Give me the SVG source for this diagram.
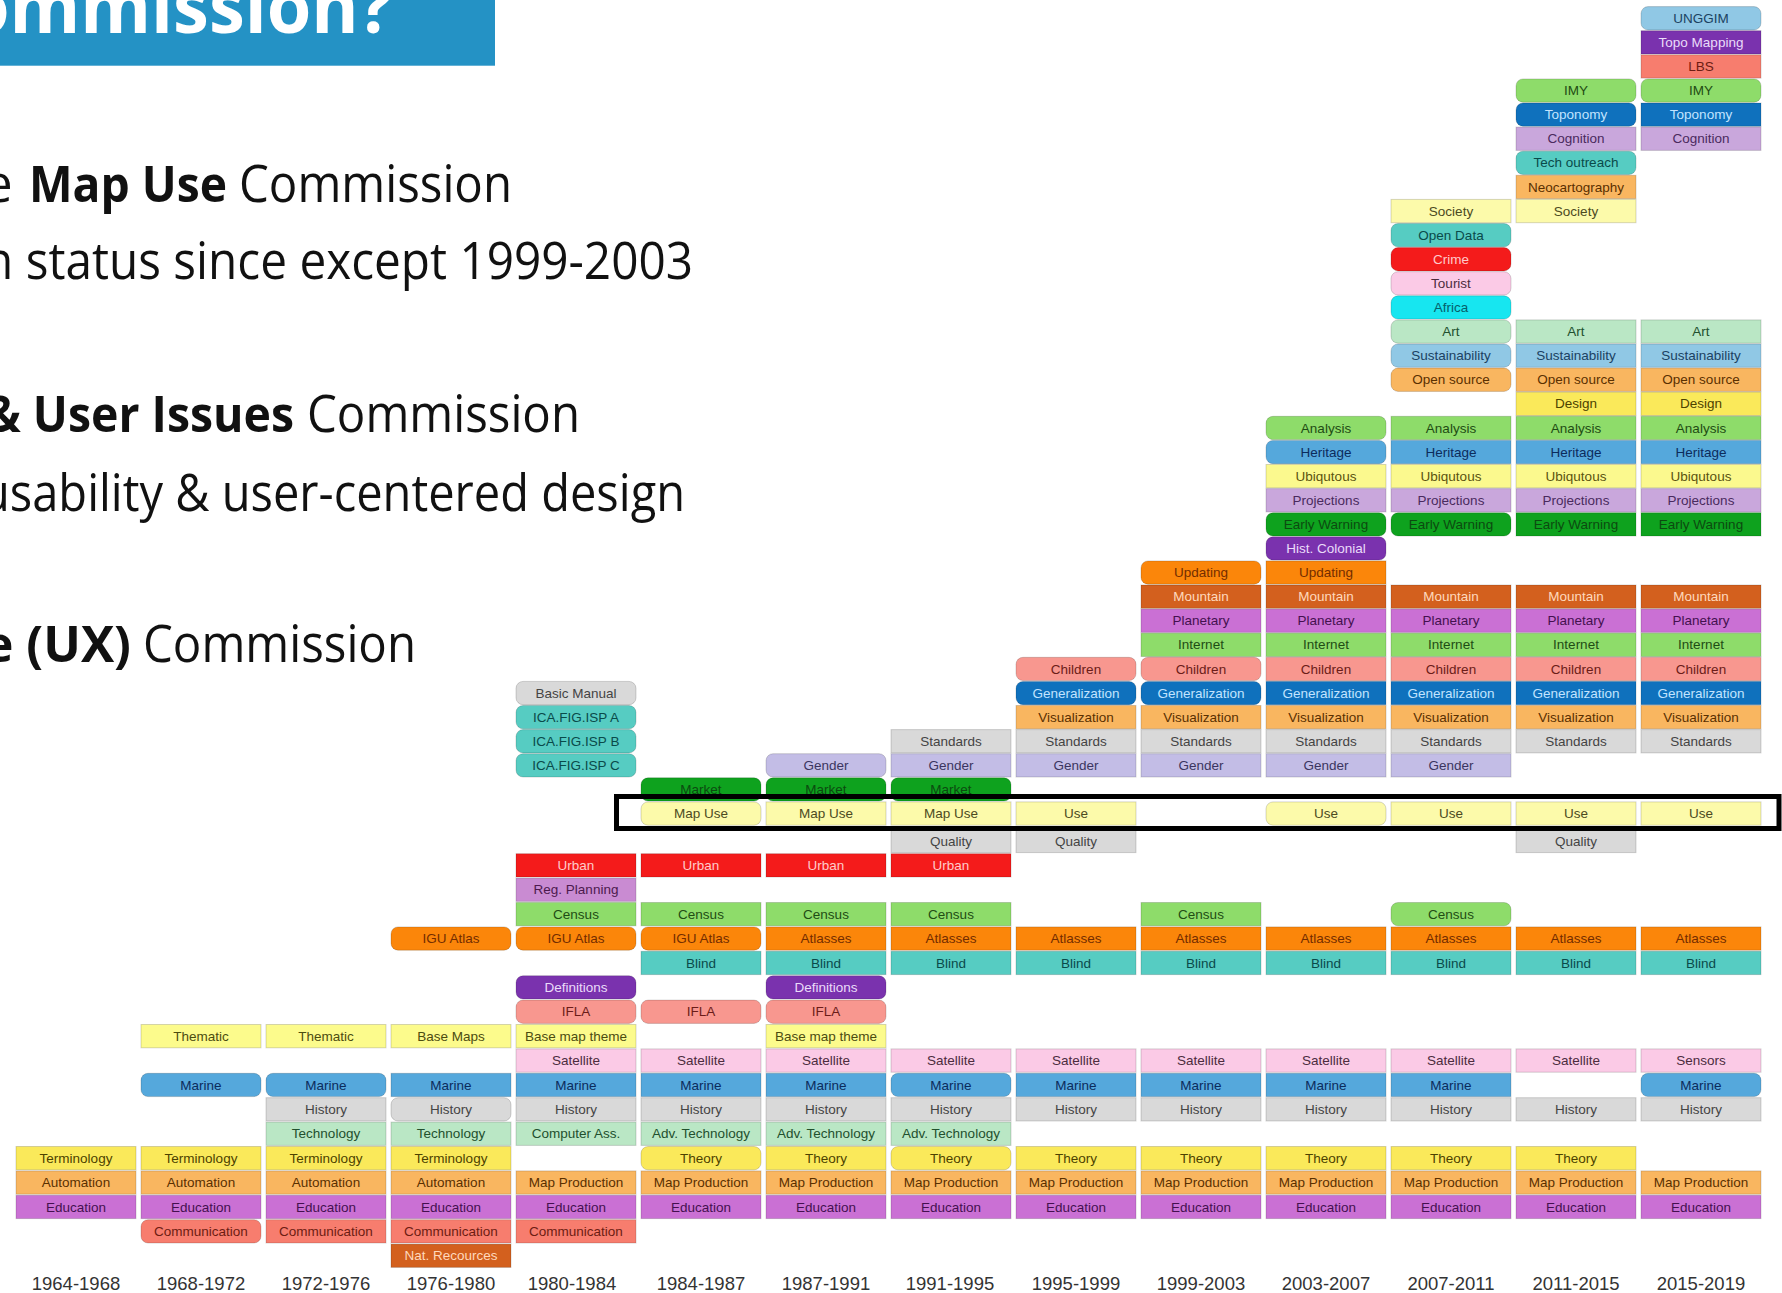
<svg xmlns="http://www.w3.org/2000/svg" width="1782" height="1293" viewBox="0 0 1782 1293">
<style>
.k rect{stroke:rgba(0,0,0,.16);stroke-width:1}
.k text{font-family:"Liberation Sans",Arial,Helvetica,sans-serif;font-size:13.5px;text-anchor:middle}
.gray rect{fill:#d9d9d9}.gray text{fill:#444}
.gender rect{fill:#c3bde6}.gender text{fill:#3b3560}
.org rect{fill:#f9b660}.org text{fill:#5a3000}
.dblue rect{fill:#0f71bd}.dblue text{fill:#c2e4ff}
.rose rect{fill:#f8978f}.rose text{fill:#6b1c18}
.green rect{fill:#8edc6a}.green text{fill:#1f4c14}
.mag rect{fill:#ca70d4}.mag text{fill:#44104f}
.rust rect{fill:#d3601e}.rust text{fill:#ffd9bd}
.orange rect{fill:#fb860a}.orange text{fill:#732d00}
.purp rect{fill:#7a32ae}.purp text{fill:#eadcfa}
.dgreen rect{fill:#0ea21e}.dgreen text{fill:#0c4a10}
.lav rect{fill:#c9a7dc}.lav text{fill:#4a2a5e}
.lyel rect{fill:#fbf98e}.lyel text{fill:#5a5210}
.blue rect{fill:#55a8dc}.blue text{fill:#0c2c5c}
.yel rect{fill:#fae95a}.yel text{fill:#4c4200}
.lblue rect{fill:#90c8e5}.lblue text{fill:#1b4262}
.mint rect{fill:#bae7c5}.mint text{fill:#22502e}
.cyan rect{fill:#17e6f0}.cyan text{fill:#05606a}
.pink rect{fill:#fbcae6}.pink text{fill:#4c2c3e}
.red rect{fill:#f41b1b}.red text{fill:#ffcaca}
.teal rect{fill:#56ccc2}.teal text{fill:#0a4a4a}
.pale rect{fill:#fcfaaa}.pale text{fill:#4c4a22}
.salmon rect{fill:#f77d6e}.salmon text{fill:#6c1c12}
.regp rect{fill:#c98bd2}.regp text{fill:#4c1a4e}
.thm rect{fill:#fcfb8c}.thm text{fill:#4c4c10}
.yr{font-family:"Liberation Sans",Arial,Helvetica,sans-serif;font-size:18.5px;fill:#333;text-anchor:middle}
.hd{font-family:"Open Sans","Noto Sans",sans-serif;fill:#111;font-size:51px}
.b{font-weight:700}
</style>
<rect width="1782" height="1293" fill="#fff"/>
<g id="title">
<rect x="0" y="0" width="495" height="65.7" fill="#2492c5"/>
<text x="-35" y="33" font-family="'Open Sans','Noto Sans',sans-serif" font-size="74" font-weight="700" fill="#fff" textLength="428" lengthAdjust="spacingAndGlyphs">ommission?</text>
</g>
<g id="bullets">
<text class="hd" x="-16" y="202">e</text>
<text class="hd b" x="29" y="202" textLength="198" lengthAdjust="spacingAndGlyphs">Map Use</text>
<text class="hd" x="239" y="202" textLength="273" lengthAdjust="spacingAndGlyphs">Commission</text>
<text class="hd" x="-16" y="279" textLength="709" lengthAdjust="spacingAndGlyphs">n status since except 1999-2003</text>
<text class="hd b" x="-14" y="432" textLength="308" lengthAdjust="spacingAndGlyphs">&amp; User Issues</text>
<text class="hd" x="307" y="432" textLength="273" lengthAdjust="spacingAndGlyphs">Commission</text>
<text class="hd" x="-19" y="511" textLength="704" lengthAdjust="spacingAndGlyphs">usability &amp; user-centered design</text>
<text class="hd b" x="-16" y="662" textLength="147" lengthAdjust="spacingAndGlyphs">e (UX)</text>
<text class="hd" x="143" y="662" textLength="273" lengthAdjust="spacingAndGlyphs">Commission</text>
</g>
<g id="years">
<text class="yr" x="76" y="1290">1964-1968</text>
<text class="yr" x="201" y="1290">1968-1972</text>
<text class="yr" x="326" y="1290">1972-1976</text>
<text class="yr" x="451" y="1290">1976-1980</text>
<text class="yr" x="572" y="1290">1980-1984</text>
<text class="yr" x="701" y="1290">1984-1987</text>
<text class="yr" x="826" y="1290">1987-1991</text>
<text class="yr" x="950" y="1290">1991-1995</text>
<text class="yr" x="1076" y="1290">1995-1999</text>
<text class="yr" x="1201" y="1290">1999-2003</text>
<text class="yr" x="1326" y="1290">2003-2007</text>
<text class="yr" x="1451" y="1290">2007-2011</text>
<text class="yr" x="1576" y="1290">2011-2015</text>
<text class="yr" x="1701" y="1290">2015-2019</text>
</g>
<g id="col1">
<g id="c1-r47" class="k yel" transform="translate(16,1146.5)"><rect width="120" height="23.3"/><text x="60" y="16.3">Terminology</text></g>
<g id="c1-r48" class="k org" transform="translate(16,1170.9)"><rect width="120" height="23.3"/><text x="60" y="16.3">Automation</text></g>
<g id="c1-r49" class="k mag" transform="translate(16,1195.3)"><rect width="120" height="23.3"/><text x="60" y="16.3">Education</text></g>
</g>
<g id="col2">
<g id="c2-r42" class="k thm" transform="translate(141,1024.5)"><rect width="120" height="23.3"/><text x="60" y="16.3">Thematic</text></g>
<g id="c2-r44" class="k blue" transform="translate(141,1073.3)"><rect width="120" height="23.3" rx="7"/><text x="60" y="16.3">Marine</text></g>
<g id="c2-r47" class="k yel" transform="translate(141,1146.5)"><rect width="120" height="23.3"/><text x="60" y="16.3">Terminology</text></g>
<g id="c2-r48" class="k org" transform="translate(141,1170.9)"><rect width="120" height="23.3"/><text x="60" y="16.3">Automation</text></g>
<g id="c2-r49" class="k mag" transform="translate(141,1195.3)"><rect width="120" height="23.3"/><text x="60" y="16.3">Education</text></g>
<g id="c2-r50" class="k salmon" transform="translate(141,1219.7)"><rect width="120" height="23.3" rx="7"/><text x="60" y="16.3">Communication</text></g>
</g>
<g id="col3">
<g id="c3-r42" class="k thm" transform="translate(266,1024.5)"><rect width="120" height="23.3"/><text x="60" y="16.3">Thematic</text></g>
<g id="c3-r44" class="k blue" transform="translate(266,1073.3)"><rect width="120" height="23.3" rx="7"/><text x="60" y="16.3">Marine</text></g>
<g id="c3-r45" class="k gray" transform="translate(266,1097.7)"><rect width="120" height="23.3"/><text x="60" y="16.3">History</text></g>
<g id="c3-r46" class="k mint" transform="translate(266,1122.1)"><rect width="120" height="23.3"/><text x="60" y="16.3">Technology</text></g>
<g id="c3-r47" class="k yel" transform="translate(266,1146.5)"><rect width="120" height="23.3"/><text x="60" y="16.3">Terminology</text></g>
<g id="c3-r48" class="k org" transform="translate(266,1170.9)"><rect width="120" height="23.3"/><text x="60" y="16.3">Automation</text></g>
<g id="c3-r49" class="k mag" transform="translate(266,1195.3)"><rect width="120" height="23.3"/><text x="60" y="16.3">Education</text></g>
<g id="c3-r50" class="k salmon" transform="translate(266,1219.7)"><rect width="120" height="23.3"/><text x="60" y="16.3">Communication</text></g>
</g>
<g id="col4">
<g id="c4-r38" class="k orange" transform="translate(391,926.9)"><rect width="120" height="23.3" rx="7"/><text x="60" y="16.3">IGU Atlas</text></g>
<g id="c4-r42" class="k thm" transform="translate(391,1024.5)"><rect width="120" height="23.3"/><text x="60" y="16.3">Base Maps</text></g>
<g id="c4-r44" class="k blue" transform="translate(391,1073.3)"><rect width="120" height="23.3"/><text x="60" y="16.3">Marine</text></g>
<g id="c4-r45" class="k gray" transform="translate(391,1097.7)"><rect width="120" height="23.3" rx="7"/><text x="60" y="16.3">History</text></g>
<g id="c4-r46" class="k mint" transform="translate(391,1122.1)"><rect width="120" height="23.3"/><text x="60" y="16.3">Technology</text></g>
<g id="c4-r47" class="k yel" transform="translate(391,1146.5)"><rect width="120" height="23.3"/><text x="60" y="16.3">Terminology</text></g>
<g id="c4-r48" class="k org" transform="translate(391,1170.9)"><rect width="120" height="23.3"/><text x="60" y="16.3">Automation</text></g>
<g id="c4-r49" class="k mag" transform="translate(391,1195.3)"><rect width="120" height="23.3"/><text x="60" y="16.3">Education</text></g>
<g id="c4-r50" class="k salmon" transform="translate(391,1219.7)"><rect width="120" height="23.3"/><text x="60" y="16.3">Communication</text></g>
<g id="c4-r51" class="k rust" transform="translate(391,1244.1)"><rect width="120" height="23.3"/><text x="60" y="16.3">Nat. Recources</text></g>
</g>
<g id="col5">
<g id="c5-r28" class="k gray" transform="translate(516,681.4)"><rect width="120" height="23.3" rx="7"/><text x="60" y="16.3">Basic Manual</text></g>
<g id="c5-r29" class="k teal" transform="translate(516,705.5)"><rect width="120" height="23.3" rx="7"/><text x="60" y="16.3">ICA.FIG.ISP A</text></g>
<g id="c5-r30" class="k teal" transform="translate(516,729.6)"><rect width="120" height="23.3" rx="7"/><text x="60" y="16.3">ICA.FIG.ISP B</text></g>
<g id="c5-r31" class="k teal" transform="translate(516,753.7)"><rect width="120" height="23.3" rx="7"/><text x="60" y="16.3">ICA.FIG.ISP C</text></g>
<g id="c5-r35" class="k red" transform="translate(516,853.7)"><rect width="120" height="23.3"/><text x="60" y="16.3">Urban</text></g>
<g id="c5-r36" class="k regp" transform="translate(516,878.1)"><rect width="120" height="23.3"/><text x="60" y="16.3">Reg. Planning</text></g>
<g id="c5-r37" class="k green" transform="translate(516,902.5)"><rect width="120" height="23.3"/><text x="60" y="16.3">Census</text></g>
<g id="c5-r38" class="k orange" transform="translate(516,926.9)"><rect width="120" height="23.3" rx="7"/><text x="60" y="16.3">IGU Atlas</text></g>
<g id="c5-r40" class="k purp" transform="translate(516,975.7)"><rect width="120" height="23.3" rx="7"/><text x="60" y="16.3">Definitions</text></g>
<g id="c5-r41" class="k rose" transform="translate(516,1000.1)"><rect width="120" height="23.3" rx="7"/><text x="60" y="16.3">IFLA</text></g>
<g id="c5-r42" class="k thm" transform="translate(516,1024.5)"><rect width="120" height="23.3"/><text x="60" y="16.3">Base map theme</text></g>
<g id="c5-r43" class="k pink" transform="translate(516,1048.9)"><rect width="120" height="23.3"/><text x="60" y="16.3">Satellite</text></g>
<g id="c5-r44" class="k blue" transform="translate(516,1073.3)"><rect width="120" height="23.3"/><text x="60" y="16.3">Marine</text></g>
<g id="c5-r45" class="k gray" transform="translate(516,1097.7)"><rect width="120" height="23.3"/><text x="60" y="16.3">History</text></g>
<g id="c5-r46" class="k mint" transform="translate(516,1122.1)"><rect width="120" height="23.3"/><text x="60" y="16.3">Computer Ass.</text></g>
<g id="c5-r48" class="k org" transform="translate(516,1170.9)"><rect width="120" height="23.3"/><text x="60" y="16.3">Map Production</text></g>
<g id="c5-r49" class="k mag" transform="translate(516,1195.3)"><rect width="120" height="23.3"/><text x="60" y="16.3">Education</text></g>
<g id="c5-r50" class="k salmon" transform="translate(516,1219.7)"><rect width="120" height="23.3"/><text x="60" y="16.3">Communication</text></g>
</g>
<g id="col6">
<g id="c6-r32" class="k dgreen" transform="translate(641,777.8)"><rect width="120" height="23.3" rx="7"/><text x="60" y="16.3">Market</text></g>
<g id="c6-r33" class="k pale" transform="translate(641,801.9)"><rect width="120" height="23.3" rx="7"/><text x="60" y="16.3">Map Use</text></g>
<g id="c6-r35" class="k red" transform="translate(641,853.7)"><rect width="120" height="23.3"/><text x="60" y="16.3">Urban</text></g>
<g id="c6-r37" class="k green" transform="translate(641,902.5)"><rect width="120" height="23.3"/><text x="60" y="16.3">Census</text></g>
<g id="c6-r38" class="k orange" transform="translate(641,926.9)"><rect width="120" height="23.3" rx="7"/><text x="60" y="16.3">IGU Atlas</text></g>
<g id="c6-r39" class="k teal" transform="translate(641,951.3)"><rect width="120" height="23.3"/><text x="60" y="16.3">Blind</text></g>
<g id="c6-r41" class="k rose" transform="translate(641,1000.1)"><rect width="120" height="23.3" rx="7"/><text x="60" y="16.3">IFLA</text></g>
<g id="c6-r43" class="k pink" transform="translate(641,1048.9)"><rect width="120" height="23.3"/><text x="60" y="16.3">Satellite</text></g>
<g id="c6-r44" class="k blue" transform="translate(641,1073.3)"><rect width="120" height="23.3"/><text x="60" y="16.3">Marine</text></g>
<g id="c6-r45" class="k gray" transform="translate(641,1097.7)"><rect width="120" height="23.3"/><text x="60" y="16.3">History</text></g>
<g id="c6-r46" class="k mint" transform="translate(641,1122.1)"><rect width="120" height="23.3"/><text x="60" y="16.3">Adv. Technology</text></g>
<g id="c6-r47" class="k yel" transform="translate(641,1146.5)"><rect width="120" height="23.3" rx="7"/><text x="60" y="16.3">Theory</text></g>
<g id="c6-r48" class="k org" transform="translate(641,1170.9)"><rect width="120" height="23.3"/><text x="60" y="16.3">Map Production</text></g>
<g id="c6-r49" class="k mag" transform="translate(641,1195.3)"><rect width="120" height="23.3"/><text x="60" y="16.3">Education</text></g>
</g>
<g id="col7">
<g id="c7-r31" class="k gender" transform="translate(766,753.7)"><rect width="120" height="23.3" rx="7"/><text x="60" y="16.3">Gender</text></g>
<g id="c7-r32" class="k dgreen" transform="translate(766,777.8)"><rect width="120" height="23.3" rx="7"/><text x="60" y="16.3">Market</text></g>
<g id="c7-r33" class="k pale" transform="translate(766,801.9)"><rect width="120" height="23.3"/><text x="60" y="16.3">Map Use</text></g>
<g id="c7-r35" class="k red" transform="translate(766,853.7)"><rect width="120" height="23.3"/><text x="60" y="16.3">Urban</text></g>
<g id="c7-r37" class="k green" transform="translate(766,902.5)"><rect width="120" height="23.3"/><text x="60" y="16.3">Census</text></g>
<g id="c7-r38" class="k orange" transform="translate(766,926.9)"><rect width="120" height="23.3"/><text x="60" y="16.3">Atlasses</text></g>
<g id="c7-r39" class="k teal" transform="translate(766,951.3)"><rect width="120" height="23.3"/><text x="60" y="16.3">Blind</text></g>
<g id="c7-r40" class="k purp" transform="translate(766,975.7)"><rect width="120" height="23.3" rx="7"/><text x="60" y="16.3">Definitions</text></g>
<g id="c7-r41" class="k rose" transform="translate(766,1000.1)"><rect width="120" height="23.3" rx="7"/><text x="60" y="16.3">IFLA</text></g>
<g id="c7-r42" class="k thm" transform="translate(766,1024.5)"><rect width="120" height="23.3"/><text x="60" y="16.3">Base map theme</text></g>
<g id="c7-r43" class="k pink" transform="translate(766,1048.9)"><rect width="120" height="23.3"/><text x="60" y="16.3">Satellite</text></g>
<g id="c7-r44" class="k blue" transform="translate(766,1073.3)"><rect width="120" height="23.3"/><text x="60" y="16.3">Marine</text></g>
<g id="c7-r45" class="k gray" transform="translate(766,1097.7)"><rect width="120" height="23.3"/><text x="60" y="16.3">History</text></g>
<g id="c7-r46" class="k mint" transform="translate(766,1122.1)"><rect width="120" height="23.3"/><text x="60" y="16.3">Adv. Technology</text></g>
<g id="c7-r47" class="k yel" transform="translate(766,1146.5)"><rect width="120" height="23.3"/><text x="60" y="16.3">Theory</text></g>
<g id="c7-r48" class="k org" transform="translate(766,1170.9)"><rect width="120" height="23.3"/><text x="60" y="16.3">Map Production</text></g>
<g id="c7-r49" class="k mag" transform="translate(766,1195.3)"><rect width="120" height="23.3"/><text x="60" y="16.3">Education</text></g>
</g>
<g id="col8">
<g id="c8-r30" class="k gray" transform="translate(891,729.6)"><rect width="120" height="23.3"/><text x="60" y="16.3">Standards</text></g>
<g id="c8-r31" class="k gender" transform="translate(891,753.7)"><rect width="120" height="23.3"/><text x="60" y="16.3">Gender</text></g>
<g id="c8-r32" class="k dgreen" transform="translate(891,777.8)"><rect width="120" height="23.3" rx="7"/><text x="60" y="16.3">Market</text></g>
<g id="c8-r33" class="k pale" transform="translate(891,801.9)"><rect width="120" height="23.3"/><text x="60" y="16.3">Map Use</text></g>
<g id="c8-r34" class="k gray" transform="translate(891,829.3)"><rect width="120" height="23.3"/><text x="60" y="16.3">Quality</text></g>
<g id="c8-r35" class="k red" transform="translate(891,853.7)"><rect width="120" height="23.3"/><text x="60" y="16.3">Urban</text></g>
<g id="c8-r37" class="k green" transform="translate(891,902.5)"><rect width="120" height="23.3"/><text x="60" y="16.3">Census</text></g>
<g id="c8-r38" class="k orange" transform="translate(891,926.9)"><rect width="120" height="23.3"/><text x="60" y="16.3">Atlasses</text></g>
<g id="c8-r39" class="k teal" transform="translate(891,951.3)"><rect width="120" height="23.3"/><text x="60" y="16.3">Blind</text></g>
<g id="c8-r43" class="k pink" transform="translate(891,1048.9)"><rect width="120" height="23.3"/><text x="60" y="16.3">Satellite</text></g>
<g id="c8-r44" class="k blue" transform="translate(891,1073.3)"><rect width="120" height="23.3" rx="7"/><text x="60" y="16.3">Marine</text></g>
<g id="c8-r45" class="k gray" transform="translate(891,1097.7)"><rect width="120" height="23.3"/><text x="60" y="16.3">History</text></g>
<g id="c8-r46" class="k mint" transform="translate(891,1122.1)"><rect width="120" height="23.3"/><text x="60" y="16.3">Adv. Technology</text></g>
<g id="c8-r47" class="k yel" transform="translate(891,1146.5)"><rect width="120" height="23.3" rx="7"/><text x="60" y="16.3">Theory</text></g>
<g id="c8-r48" class="k org" transform="translate(891,1170.9)"><rect width="120" height="23.3"/><text x="60" y="16.3">Map Production</text></g>
<g id="c8-r49" class="k mag" transform="translate(891,1195.3)"><rect width="120" height="23.3"/><text x="60" y="16.3">Education</text></g>
</g>
<g id="col9">
<g id="c9-r27" class="k rose" transform="translate(1016,657.3)"><rect width="120" height="23.3" rx="7"/><text x="60" y="16.3">Children</text></g>
<g id="c9-r28" class="k dblue" transform="translate(1016,681.4)"><rect width="120" height="23.3" rx="7"/><text x="60" y="16.3">Generalization</text></g>
<g id="c9-r29" class="k org" transform="translate(1016,705.5)"><rect width="120" height="23.3"/><text x="60" y="16.3">Visualization</text></g>
<g id="c9-r30" class="k gray" transform="translate(1016,729.6)"><rect width="120" height="23.3"/><text x="60" y="16.3">Standards</text></g>
<g id="c9-r31" class="k gender" transform="translate(1016,753.7)"><rect width="120" height="23.3"/><text x="60" y="16.3">Gender</text></g>
<g id="c9-r33" class="k pale" transform="translate(1016,801.9)"><rect width="120" height="23.3"/><text x="60" y="16.3">Use</text></g>
<g id="c9-r34" class="k gray" transform="translate(1016,829.3)"><rect width="120" height="23.3"/><text x="60" y="16.3">Quality</text></g>
<g id="c9-r38" class="k orange" transform="translate(1016,926.9)"><rect width="120" height="23.3"/><text x="60" y="16.3">Atlasses</text></g>
<g id="c9-r39" class="k teal" transform="translate(1016,951.3)"><rect width="120" height="23.3"/><text x="60" y="16.3">Blind</text></g>
<g id="c9-r43" class="k pink" transform="translate(1016,1048.9)"><rect width="120" height="23.3"/><text x="60" y="16.3">Satellite</text></g>
<g id="c9-r44" class="k blue" transform="translate(1016,1073.3)"><rect width="120" height="23.3"/><text x="60" y="16.3">Marine</text></g>
<g id="c9-r45" class="k gray" transform="translate(1016,1097.7)"><rect width="120" height="23.3"/><text x="60" y="16.3">History</text></g>
<g id="c9-r47" class="k yel" transform="translate(1016,1146.5)"><rect width="120" height="23.3"/><text x="60" y="16.3">Theory</text></g>
<g id="c9-r48" class="k org" transform="translate(1016,1170.9)"><rect width="120" height="23.3"/><text x="60" y="16.3">Map Production</text></g>
<g id="c9-r49" class="k mag" transform="translate(1016,1195.3)"><rect width="120" height="23.3"/><text x="60" y="16.3">Education</text></g>
</g>
<g id="col10">
<g id="c10-r23" class="k orange" transform="translate(1141,560.9)"><rect width="120" height="23.3" rx="7"/><text x="60" y="16.3">Updating</text></g>
<g id="c10-r24" class="k rust" transform="translate(1141,585)"><rect width="120" height="23.3"/><text x="60" y="16.3">Mountain</text></g>
<g id="c10-r25" class="k mag" transform="translate(1141,609.1)"><rect width="120" height="23.3"/><text x="60" y="16.3">Planetary</text></g>
<g id="c10-r26" class="k green" transform="translate(1141,633.2)"><rect width="120" height="23.3"/><text x="60" y="16.3">Internet</text></g>
<g id="c10-r27" class="k rose" transform="translate(1141,657.3)"><rect width="120" height="23.3" rx="7"/><text x="60" y="16.3">Children</text></g>
<g id="c10-r28" class="k dblue" transform="translate(1141,681.4)"><rect width="120" height="23.3" rx="7"/><text x="60" y="16.3">Generalization</text></g>
<g id="c10-r29" class="k org" transform="translate(1141,705.5)"><rect width="120" height="23.3"/><text x="60" y="16.3">Visualization</text></g>
<g id="c10-r30" class="k gray" transform="translate(1141,729.6)"><rect width="120" height="23.3"/><text x="60" y="16.3">Standards</text></g>
<g id="c10-r31" class="k gender" transform="translate(1141,753.7)"><rect width="120" height="23.3"/><text x="60" y="16.3">Gender</text></g>
<g id="c10-r37" class="k green" transform="translate(1141,902.5)"><rect width="120" height="23.3"/><text x="60" y="16.3">Census</text></g>
<g id="c10-r38" class="k orange" transform="translate(1141,926.9)"><rect width="120" height="23.3"/><text x="60" y="16.3">Atlasses</text></g>
<g id="c10-r39" class="k teal" transform="translate(1141,951.3)"><rect width="120" height="23.3"/><text x="60" y="16.3">Blind</text></g>
<g id="c10-r43" class="k pink" transform="translate(1141,1048.9)"><rect width="120" height="23.3"/><text x="60" y="16.3">Satellite</text></g>
<g id="c10-r44" class="k blue" transform="translate(1141,1073.3)"><rect width="120" height="23.3"/><text x="60" y="16.3">Marine</text></g>
<g id="c10-r45" class="k gray" transform="translate(1141,1097.7)"><rect width="120" height="23.3"/><text x="60" y="16.3">History</text></g>
<g id="c10-r47" class="k yel" transform="translate(1141,1146.5)"><rect width="120" height="23.3"/><text x="60" y="16.3">Theory</text></g>
<g id="c10-r48" class="k org" transform="translate(1141,1170.9)"><rect width="120" height="23.3"/><text x="60" y="16.3">Map Production</text></g>
<g id="c10-r49" class="k mag" transform="translate(1141,1195.3)"><rect width="120" height="23.3"/><text x="60" y="16.3">Education</text></g>
</g>
<g id="col11">
<g id="c11-r17" class="k green" transform="translate(1266,416.3)"><rect width="120" height="23.3" rx="7"/><text x="60" y="16.3">Analysis</text></g>
<g id="c11-r18" class="k blue" transform="translate(1266,440.4)"><rect width="120" height="23.3" rx="7"/><text x="60" y="16.3">Heritage</text></g>
<g id="c11-r19" class="k lyel" transform="translate(1266,464.5)"><rect width="120" height="23.3"/><text x="60" y="16.3">Ubiqutous</text></g>
<g id="c11-r20" class="k lav" transform="translate(1266,488.6)"><rect width="120" height="23.3"/><text x="60" y="16.3">Projections</text></g>
<g id="c11-r21" class="k dgreen" transform="translate(1266,512.7)"><rect width="120" height="23.3" rx="7"/><text x="60" y="16.3">Early Warning</text></g>
<g id="c11-r22" class="k purp" transform="translate(1266,536.8)"><rect width="120" height="23.3" rx="7"/><text x="60" y="16.3">Hist. Colonial</text></g>
<g id="c11-r23" class="k orange" transform="translate(1266,560.9)"><rect width="120" height="23.3"/><text x="60" y="16.3">Updating</text></g>
<g id="c11-r24" class="k rust" transform="translate(1266,585)"><rect width="120" height="23.3"/><text x="60" y="16.3">Mountain</text></g>
<g id="c11-r25" class="k mag" transform="translate(1266,609.1)"><rect width="120" height="23.3"/><text x="60" y="16.3">Planetary</text></g>
<g id="c11-r26" class="k green" transform="translate(1266,633.2)"><rect width="120" height="23.3"/><text x="60" y="16.3">Internet</text></g>
<g id="c11-r27" class="k rose" transform="translate(1266,657.3)"><rect width="120" height="23.3"/><text x="60" y="16.3">Children</text></g>
<g id="c11-r28" class="k dblue" transform="translate(1266,681.4)"><rect width="120" height="23.3"/><text x="60" y="16.3">Generalization</text></g>
<g id="c11-r29" class="k org" transform="translate(1266,705.5)"><rect width="120" height="23.3"/><text x="60" y="16.3">Visualization</text></g>
<g id="c11-r30" class="k gray" transform="translate(1266,729.6)"><rect width="120" height="23.3"/><text x="60" y="16.3">Standards</text></g>
<g id="c11-r31" class="k gender" transform="translate(1266,753.7)"><rect width="120" height="23.3"/><text x="60" y="16.3">Gender</text></g>
<g id="c11-r33" class="k pale" transform="translate(1266,801.9)"><rect width="120" height="23.3" rx="7"/><text x="60" y="16.3">Use</text></g>
<g id="c11-r38" class="k orange" transform="translate(1266,926.9)"><rect width="120" height="23.3"/><text x="60" y="16.3">Atlasses</text></g>
<g id="c11-r39" class="k teal" transform="translate(1266,951.3)"><rect width="120" height="23.3"/><text x="60" y="16.3">Blind</text></g>
<g id="c11-r43" class="k pink" transform="translate(1266,1048.9)"><rect width="120" height="23.3"/><text x="60" y="16.3">Satellite</text></g>
<g id="c11-r44" class="k blue" transform="translate(1266,1073.3)"><rect width="120" height="23.3"/><text x="60" y="16.3">Marine</text></g>
<g id="c11-r45" class="k gray" transform="translate(1266,1097.7)"><rect width="120" height="23.3"/><text x="60" y="16.3">History</text></g>
<g id="c11-r47" class="k yel" transform="translate(1266,1146.5)"><rect width="120" height="23.3"/><text x="60" y="16.3">Theory</text></g>
<g id="c11-r48" class="k org" transform="translate(1266,1170.9)"><rect width="120" height="23.3"/><text x="60" y="16.3">Map Production</text></g>
<g id="c11-r49" class="k mag" transform="translate(1266,1195.3)"><rect width="120" height="23.3"/><text x="60" y="16.3">Education</text></g>
</g>
<g id="col12">
<g id="c12-r8" class="k pale" transform="translate(1391,199.4)"><rect width="120" height="23.3"/><text x="60" y="16.3">Society</text></g>
<g id="c12-r9" class="k teal" transform="translate(1391,223.5)"><rect width="120" height="23.3" rx="7"/><text x="60" y="16.3">Open Data</text></g>
<g id="c12-r10" class="k red" transform="translate(1391,247.6)"><rect width="120" height="23.3" rx="7"/><text x="60" y="16.3">Crime</text></g>
<g id="c12-r11" class="k pink" transform="translate(1391,271.7)"><rect width="120" height="23.3" rx="7"/><text x="60" y="16.3">Tourist</text></g>
<g id="c12-r12" class="k cyan" transform="translate(1391,295.8)"><rect width="120" height="23.3" rx="7"/><text x="60" y="16.3">Africa</text></g>
<g id="c12-r13" class="k mint" transform="translate(1391,319.9)"><rect width="120" height="23.3" rx="7"/><text x="60" y="16.3">Art</text></g>
<g id="c12-r14" class="k lblue" transform="translate(1391,344)"><rect width="120" height="23.3" rx="7"/><text x="60" y="16.3">Sustainability</text></g>
<g id="c12-r15" class="k org" transform="translate(1391,368.1)"><rect width="120" height="23.3" rx="7"/><text x="60" y="16.3">Open source</text></g>
<g id="c12-r17" class="k green" transform="translate(1391,416.3)"><rect width="120" height="23.3"/><text x="60" y="16.3">Analysis</text></g>
<g id="c12-r18" class="k blue" transform="translate(1391,440.4)"><rect width="120" height="23.3"/><text x="60" y="16.3">Heritage</text></g>
<g id="c12-r19" class="k lyel" transform="translate(1391,464.5)"><rect width="120" height="23.3"/><text x="60" y="16.3">Ubiqutous</text></g>
<g id="c12-r20" class="k lav" transform="translate(1391,488.6)"><rect width="120" height="23.3"/><text x="60" y="16.3">Projections</text></g>
<g id="c12-r21" class="k dgreen" transform="translate(1391,512.7)"><rect width="120" height="23.3" rx="7"/><text x="60" y="16.3">Early Warning</text></g>
<g id="c12-r24" class="k rust" transform="translate(1391,585)"><rect width="120" height="23.3"/><text x="60" y="16.3">Mountain</text></g>
<g id="c12-r25" class="k mag" transform="translate(1391,609.1)"><rect width="120" height="23.3"/><text x="60" y="16.3">Planetary</text></g>
<g id="c12-r26" class="k green" transform="translate(1391,633.2)"><rect width="120" height="23.3"/><text x="60" y="16.3">Internet</text></g>
<g id="c12-r27" class="k rose" transform="translate(1391,657.3)"><rect width="120" height="23.3"/><text x="60" y="16.3">Children</text></g>
<g id="c12-r28" class="k dblue" transform="translate(1391,681.4)"><rect width="120" height="23.3"/><text x="60" y="16.3">Generalization</text></g>
<g id="c12-r29" class="k org" transform="translate(1391,705.5)"><rect width="120" height="23.3"/><text x="60" y="16.3">Visualization</text></g>
<g id="c12-r30" class="k gray" transform="translate(1391,729.6)"><rect width="120" height="23.3"/><text x="60" y="16.3">Standards</text></g>
<g id="c12-r31" class="k gender" transform="translate(1391,753.7)"><rect width="120" height="23.3"/><text x="60" y="16.3">Gender</text></g>
<g id="c12-r33" class="k pale" transform="translate(1391,801.9)"><rect width="120" height="23.3"/><text x="60" y="16.3">Use</text></g>
<g id="c12-r37" class="k green" transform="translate(1391,902.5)"><rect width="120" height="23.3" rx="7"/><text x="60" y="16.3">Census</text></g>
<g id="c12-r38" class="k orange" transform="translate(1391,926.9)"><rect width="120" height="23.3"/><text x="60" y="16.3">Atlasses</text></g>
<g id="c12-r39" class="k teal" transform="translate(1391,951.3)"><rect width="120" height="23.3"/><text x="60" y="16.3">Blind</text></g>
<g id="c12-r43" class="k pink" transform="translate(1391,1048.9)"><rect width="120" height="23.3"/><text x="60" y="16.3">Satellite</text></g>
<g id="c12-r44" class="k blue" transform="translate(1391,1073.3)"><rect width="120" height="23.3"/><text x="60" y="16.3">Marine</text></g>
<g id="c12-r45" class="k gray" transform="translate(1391,1097.7)"><rect width="120" height="23.3"/><text x="60" y="16.3">History</text></g>
<g id="c12-r47" class="k yel" transform="translate(1391,1146.5)"><rect width="120" height="23.3"/><text x="60" y="16.3">Theory</text></g>
<g id="c12-r48" class="k org" transform="translate(1391,1170.9)"><rect width="120" height="23.3"/><text x="60" y="16.3">Map Production</text></g>
<g id="c12-r49" class="k mag" transform="translate(1391,1195.3)"><rect width="120" height="23.3"/><text x="60" y="16.3">Education</text></g>
</g>
<g id="col13">
<g id="c13-r3" class="k green" transform="translate(1516,78.9)"><rect width="120" height="23.3" rx="7"/><text x="60" y="16.3">IMY</text></g>
<g id="c13-r4" class="k dblue" transform="translate(1516,103)"><rect width="120" height="23.3" rx="7"/><text x="60" y="16.3">Toponomy</text></g>
<g id="c13-r5" class="k lav" transform="translate(1516,127.1)"><rect width="120" height="23.3"/><text x="60" y="16.3">Cognition</text></g>
<g id="c13-r6" class="k teal" transform="translate(1516,151.2)"><rect width="120" height="23.3" rx="7"/><text x="60" y="16.3">Tech outreach</text></g>
<g id="c13-r7" class="k org" transform="translate(1516,175.3)"><rect width="120" height="23.3"/><text x="60" y="16.3">Neocartography</text></g>
<g id="c13-r8" class="k pale" transform="translate(1516,199.4)"><rect width="120" height="23.3"/><text x="60" y="16.3">Society</text></g>
<g id="c13-r13" class="k mint" transform="translate(1516,319.9)"><rect width="120" height="23.3"/><text x="60" y="16.3">Art</text></g>
<g id="c13-r14" class="k lblue" transform="translate(1516,344)"><rect width="120" height="23.3"/><text x="60" y="16.3">Sustainability</text></g>
<g id="c13-r15" class="k org" transform="translate(1516,368.1)"><rect width="120" height="23.3"/><text x="60" y="16.3">Open source</text></g>
<g id="c13-r16" class="k yel" transform="translate(1516,392.2)"><rect width="120" height="23.3"/><text x="60" y="16.3">Design</text></g>
<g id="c13-r17" class="k green" transform="translate(1516,416.3)"><rect width="120" height="23.3"/><text x="60" y="16.3">Analysis</text></g>
<g id="c13-r18" class="k blue" transform="translate(1516,440.4)"><rect width="120" height="23.3"/><text x="60" y="16.3">Heritage</text></g>
<g id="c13-r19" class="k lyel" transform="translate(1516,464.5)"><rect width="120" height="23.3"/><text x="60" y="16.3">Ubiqutous</text></g>
<g id="c13-r20" class="k lav" transform="translate(1516,488.6)"><rect width="120" height="23.3"/><text x="60" y="16.3">Projections</text></g>
<g id="c13-r21" class="k dgreen" transform="translate(1516,512.7)"><rect width="120" height="23.3"/><text x="60" y="16.3">Early Warning</text></g>
<g id="c13-r24" class="k rust" transform="translate(1516,585)"><rect width="120" height="23.3"/><text x="60" y="16.3">Mountain</text></g>
<g id="c13-r25" class="k mag" transform="translate(1516,609.1)"><rect width="120" height="23.3"/><text x="60" y="16.3">Planetary</text></g>
<g id="c13-r26" class="k green" transform="translate(1516,633.2)"><rect width="120" height="23.3"/><text x="60" y="16.3">Internet</text></g>
<g id="c13-r27" class="k rose" transform="translate(1516,657.3)"><rect width="120" height="23.3"/><text x="60" y="16.3">Children</text></g>
<g id="c13-r28" class="k dblue" transform="translate(1516,681.4)"><rect width="120" height="23.3"/><text x="60" y="16.3">Generalization</text></g>
<g id="c13-r29" class="k org" transform="translate(1516,705.5)"><rect width="120" height="23.3"/><text x="60" y="16.3">Visualization</text></g>
<g id="c13-r30" class="k gray" transform="translate(1516,729.6)"><rect width="120" height="23.3"/><text x="60" y="16.3">Standards</text></g>
<g id="c13-r33" class="k pale" transform="translate(1516,801.9)"><rect width="120" height="23.3"/><text x="60" y="16.3">Use</text></g>
<g id="c13-r34" class="k gray" transform="translate(1516,829.3)"><rect width="120" height="23.3"/><text x="60" y="16.3">Quality</text></g>
<g id="c13-r38" class="k orange" transform="translate(1516,926.9)"><rect width="120" height="23.3"/><text x="60" y="16.3">Atlasses</text></g>
<g id="c13-r39" class="k teal" transform="translate(1516,951.3)"><rect width="120" height="23.3"/><text x="60" y="16.3">Blind</text></g>
<g id="c13-r43" class="k pink" transform="translate(1516,1048.9)"><rect width="120" height="23.3"/><text x="60" y="16.3">Satellite</text></g>
<g id="c13-r45" class="k gray" transform="translate(1516,1097.7)"><rect width="120" height="23.3"/><text x="60" y="16.3">History</text></g>
<g id="c13-r47" class="k yel" transform="translate(1516,1146.5)"><rect width="120" height="23.3"/><text x="60" y="16.3">Theory</text></g>
<g id="c13-r48" class="k org" transform="translate(1516,1170.9)"><rect width="120" height="23.3"/><text x="60" y="16.3">Map Production</text></g>
<g id="c13-r49" class="k mag" transform="translate(1516,1195.3)"><rect width="120" height="23.3"/><text x="60" y="16.3">Education</text></g>
</g>
<g id="col14">
<g id="c14-r0" class="k lblue" transform="translate(1641,6.6)"><rect width="120" height="23.3" rx="7"/><text x="60" y="16.3">UNGGIM</text></g>
<g id="c14-r1" class="k purp" transform="translate(1641,30.7)"><rect width="120" height="23.3"/><text x="60" y="16.3">Topo Mapping</text></g>
<g id="c14-r2" class="k salmon" transform="translate(1641,54.8)"><rect width="120" height="23.3"/><text x="60" y="16.3">LBS</text></g>
<g id="c14-r3" class="k green" transform="translate(1641,78.9)"><rect width="120" height="23.3" rx="7"/><text x="60" y="16.3">IMY</text></g>
<g id="c14-r4" class="k dblue" transform="translate(1641,103)"><rect width="120" height="23.3"/><text x="60" y="16.3">Toponomy</text></g>
<g id="c14-r5" class="k lav" transform="translate(1641,127.1)"><rect width="120" height="23.3"/><text x="60" y="16.3">Cognition</text></g>
<g id="c14-r13" class="k mint" transform="translate(1641,319.9)"><rect width="120" height="23.3"/><text x="60" y="16.3">Art</text></g>
<g id="c14-r14" class="k lblue" transform="translate(1641,344)"><rect width="120" height="23.3"/><text x="60" y="16.3">Sustainability</text></g>
<g id="c14-r15" class="k org" transform="translate(1641,368.1)"><rect width="120" height="23.3"/><text x="60" y="16.3">Open source</text></g>
<g id="c14-r16" class="k yel" transform="translate(1641,392.2)"><rect width="120" height="23.3"/><text x="60" y="16.3">Design</text></g>
<g id="c14-r17" class="k green" transform="translate(1641,416.3)"><rect width="120" height="23.3"/><text x="60" y="16.3">Analysis</text></g>
<g id="c14-r18" class="k blue" transform="translate(1641,440.4)"><rect width="120" height="23.3"/><text x="60" y="16.3">Heritage</text></g>
<g id="c14-r19" class="k lyel" transform="translate(1641,464.5)"><rect width="120" height="23.3"/><text x="60" y="16.3">Ubiqutous</text></g>
<g id="c14-r20" class="k lav" transform="translate(1641,488.6)"><rect width="120" height="23.3"/><text x="60" y="16.3">Projections</text></g>
<g id="c14-r21" class="k dgreen" transform="translate(1641,512.7)"><rect width="120" height="23.3"/><text x="60" y="16.3">Early Warning</text></g>
<g id="c14-r24" class="k rust" transform="translate(1641,585)"><rect width="120" height="23.3"/><text x="60" y="16.3">Mountain</text></g>
<g id="c14-r25" class="k mag" transform="translate(1641,609.1)"><rect width="120" height="23.3"/><text x="60" y="16.3">Planetary</text></g>
<g id="c14-r26" class="k green" transform="translate(1641,633.2)"><rect width="120" height="23.3"/><text x="60" y="16.3">Internet</text></g>
<g id="c14-r27" class="k rose" transform="translate(1641,657.3)"><rect width="120" height="23.3"/><text x="60" y="16.3">Children</text></g>
<g id="c14-r28" class="k dblue" transform="translate(1641,681.4)"><rect width="120" height="23.3"/><text x="60" y="16.3">Generalization</text></g>
<g id="c14-r29" class="k org" transform="translate(1641,705.5)"><rect width="120" height="23.3"/><text x="60" y="16.3">Visualization</text></g>
<g id="c14-r30" class="k gray" transform="translate(1641,729.6)"><rect width="120" height="23.3"/><text x="60" y="16.3">Standards</text></g>
<g id="c14-r33" class="k pale" transform="translate(1641,801.9)"><rect width="120" height="23.3"/><text x="60" y="16.3">Use</text></g>
<g id="c14-r38" class="k orange" transform="translate(1641,926.9)"><rect width="120" height="23.3"/><text x="60" y="16.3">Atlasses</text></g>
<g id="c14-r39" class="k teal" transform="translate(1641,951.3)"><rect width="120" height="23.3"/><text x="60" y="16.3">Blind</text></g>
<g id="c14-r43" class="k pink" transform="translate(1641,1048.9)"><rect width="120" height="23.3"/><text x="60" y="16.3">Sensors</text></g>
<g id="c14-r44" class="k blue" transform="translate(1641,1073.3)"><rect width="120" height="23.3" rx="7"/><text x="60" y="16.3">Marine</text></g>
<g id="c14-r45" class="k gray" transform="translate(1641,1097.7)"><rect width="120" height="23.3"/><text x="60" y="16.3">History</text></g>
<g id="c14-r48" class="k org" transform="translate(1641,1170.9)"><rect width="120" height="23.3"/><text x="60" y="16.3">Map Production</text></g>
<g id="c14-r49" class="k mag" transform="translate(1641,1195.3)"><rect width="120" height="23.3"/><text x="60" y="16.3">Education</text></g>
</g>
<g id="connectors">
<rect id="highlight-frame" x="616.5" y="796.5" width="1162.5" height="32" fill="none" stroke="#000" stroke-width="5"/>
</g>
</svg>
